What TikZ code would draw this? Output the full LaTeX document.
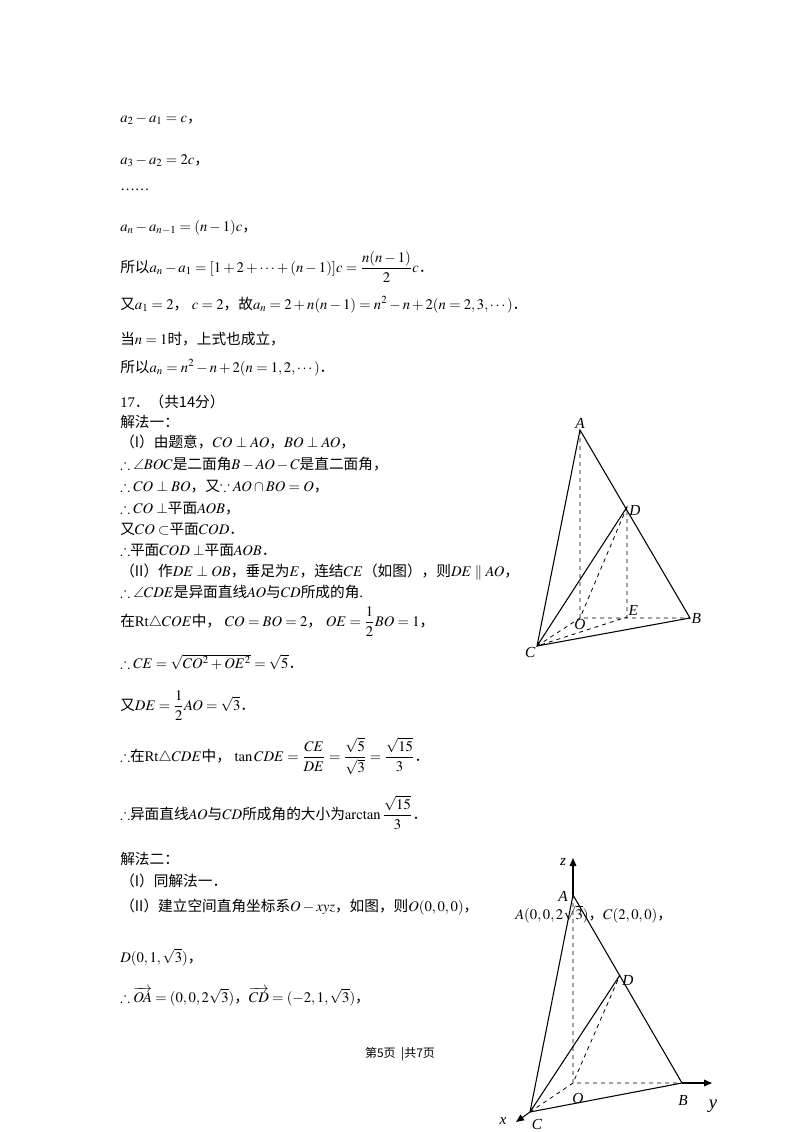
\documentclass[tikz,border=0pt]{standalone}
\usepackage{amsmath,amssymb}
\usepackage{mathptmx}
\usepackage{fontspec}
\setmainfont{Liberation Serif}
\newfontfamily\cjk{Noto Sans CJK SC}
\usetikzlibrary{arrows.meta}
\newcommand{\zh}[1]{{\cjk #1}}
\newcommand{\jd}{\zh{．}}
\begin{document}
\begin{tikzpicture}[x=0.75pt,y=-0.75pt,
  txt/.style={anchor=base west,inner sep=0pt,font=\fontsize{11}{12}\selectfont},
  lbl/.style={inner sep=1pt,font=\itshape\fontsize{11.5}{12}\selectfont},
  edge/.style={line width=0.8pt},
  hid/.style={dashed,line width=0.6pt},
  ax/.style={line width=0.8pt,-{Triangle[length=6pt,width=5pt]}}]
\useasboundingbox (0,0) rectangle (800,1132);
\fill[white] (0,0) rectangle (800,1132);
% text
\node[txt] (t1) at (120,122) {$a_2-a_1=c$\zh{，}};
\node[txt] (t2) at (120,164) {$a_3-a_2=2c$\zh{，}};
\node[txt] (t3) at (120,190) {……};
\node[txt] (t4) at (120,231) {$a_n-a_{n-1}=(n-1)c$\zh{，}};
\node[txt] (t5) at (120,272) {\zh{所以}$a_n-a_1=[1+2+\cdots+(n-1)]c=\dfrac{n(n-1)}{2}c$\jd};
\node[txt] (t6) at (120,309) {\zh{又}$a_1=2$\zh{，} $c=2$\zh{，故}$a_n=2+n(n-1)=n^2-n+2(n=2,3,\cdots)$\jd};
\node[txt] (t7) at (120,344) {\zh{当}$n=1$\zh{时，上式也成立，}};
\node[txt] (t8) at (120,372) {\zh{所以}$a_n=n^2-n+2(n=1,2,\cdots)$\jd};
\node[txt] (t9) at (120,407) {17\zh{．（共14分）}};
\node[txt] (t10) at (120,427) {\zh{解法一：}};
\node[txt] (t11) at (120,447) {\zh{（I）由题意，}$CO\perp AO$\zh{，}$BO\perp AO$\zh{，}};
\node[txt] (t12) at (120,469) {$\therefore\angle BOC$\zh{是二面角}$B-AO-C$\zh{是直二面角，}};
\node[txt] (t13) at (120,491) {$\therefore CO\perp BO$\zh{，又}$\because AO\cap BO=O$\zh{，}};
\node[txt] (t14) at (120,513) {$\therefore CO\perp$\zh{平面}$AOB$\zh{，}};
\node[txt] (t15) at (120,534) {\zh{又}$CO\subset$\zh{平面}$COD$\jd};
\node[txt] (t16) at (120,555) {$\therefore$\zh{平面}$COD\perp$\zh{平面}$AOB$\jd};
\node[txt] (t17) at (120,576) {\zh{（II）作}$DE\perp OB$\zh{，垂足为}$E$\zh{，连结}$CE$\zh{（如图），则}$DE\parallel AO$\zh{，}};
\node[txt] (t18) at (120,597) {$\therefore\angle CDE$\zh{是异面直线}$AO$\zh{与}$CD$\zh{所成的角}.};
\node[txt] (t19) at (120,626) {\zh{在}Rt$\triangle COE$\zh{中，} $CO=BO=2$\zh{，} $OE=\dfrac12 BO=1$\zh{，}};
\node[txt] (t20) at (120,668) {$\therefore CE=\sqrt{CO^2+OE^2}=\sqrt5$\jd};
\node[txt] (t21) at (120,710) {\zh{又}$DE=\dfrac12 AO=\sqrt3$\jd};
\node[txt] (t22) at (120,761) {$\therefore$\zh{在}Rt$\triangle CDE$\zh{中，} $\tan CDE=\dfrac{CE}{DE}=\dfrac{\sqrt5}{\sqrt3}=\dfrac{\sqrt{15}}{3}$\jd};
\node[txt] (t23) at (120,819) {$\therefore$\zh{异面直线}$AO$\zh{与}$CD$\zh{所成角的大小为}$\arctan\dfrac{\sqrt{15}}{3}$\jd};
\node[txt] (t24) at (120,864) {\zh{解法二：}};
\node[txt] (t25) at (120,886) {\zh{（I）同解法一．}};
\node[txt] (t26) at (120,911) {\zh{（II）建立空间直角坐标系}$O-xyz$\zh{，如图，则}$O(0,0,0)$\zh{，}};
\node[txt] (t26b) at (515,919) {$A(0,0,2\sqrt3)$\zh{，}$C(2,0,0)$\zh{，}};
\node[txt] (t27) at (120,962) {$D(0,1,\sqrt3)$\zh{，}};
\node[txt] (t28) at (120,1002) {$\therefore\overrightarrow{OA}=(0,0,2\sqrt3)$\zh{，}$\overrightarrow{CD}=(-2,1,\sqrt3)$\zh{，}};
\node[anchor=base,inner sep=0pt,font=\fontsize{9}{10}\selectfont] (pg) at (400,1057) {\zh{第5页 \ |共7页}};
% figure 1
\coordinate (A) at (580,430);
\coordinate (D) at (627,507);
\coordinate (E) at (627,617);
\coordinate (B) at (690,618);
\coordinate (O) at (580,618);
\coordinate (C) at (537,646);
\draw[edge] (C)--(A)--(B)--(C)--(D);
\draw[hid] (A)--(O)--(B) (C)--(O)--(D)--(E)--(C);
\node[lbl,above] at (A) {A};
\node[lbl] at (635,510) {D};
\node[lbl,above right] at (E) {E};
\node[lbl,right] at (B) {B};
\node[lbl,below] at (O) {O};
\node[lbl,below left] at (C) {C};
% figure 2
\coordinate (A2) at (573,895);
\coordinate (D2) at (620,975);
\coordinate (O2) at (573,1083);
\coordinate (B2) at (682,1083);
\coordinate (C2) at (530,1112);
\coordinate (Z) at (573,858);
\coordinate (Y) at (712,1083);
\coordinate (X) at (516,1122);
\draw[ax] (A2)--(Z);
\draw[ax] (B2)--(Y);
\draw[ax] (C2)--(X);
\draw[edge] (C2)--(A2)--(B2)--(C2)--(D2);
\draw[hid] (A2)--(O2)--(B2) (C2)--(O2)--(D2);
\node[lbl] at (563,862) {z};
\node[lbl] at (563,896) {A};
\node[lbl] at (628,980) {D};
\node[lbl] at (578,1098) {O};
\node[lbl] at (683,1100) {B};
\node[lbl,font=\itshape\fontsize{14}{14}\selectfont] at (713,1106) {y};
\node[lbl] at (503,1121) {x};
\node[lbl] at (537,1124) {C};
\end{tikzpicture}
\end{document}
